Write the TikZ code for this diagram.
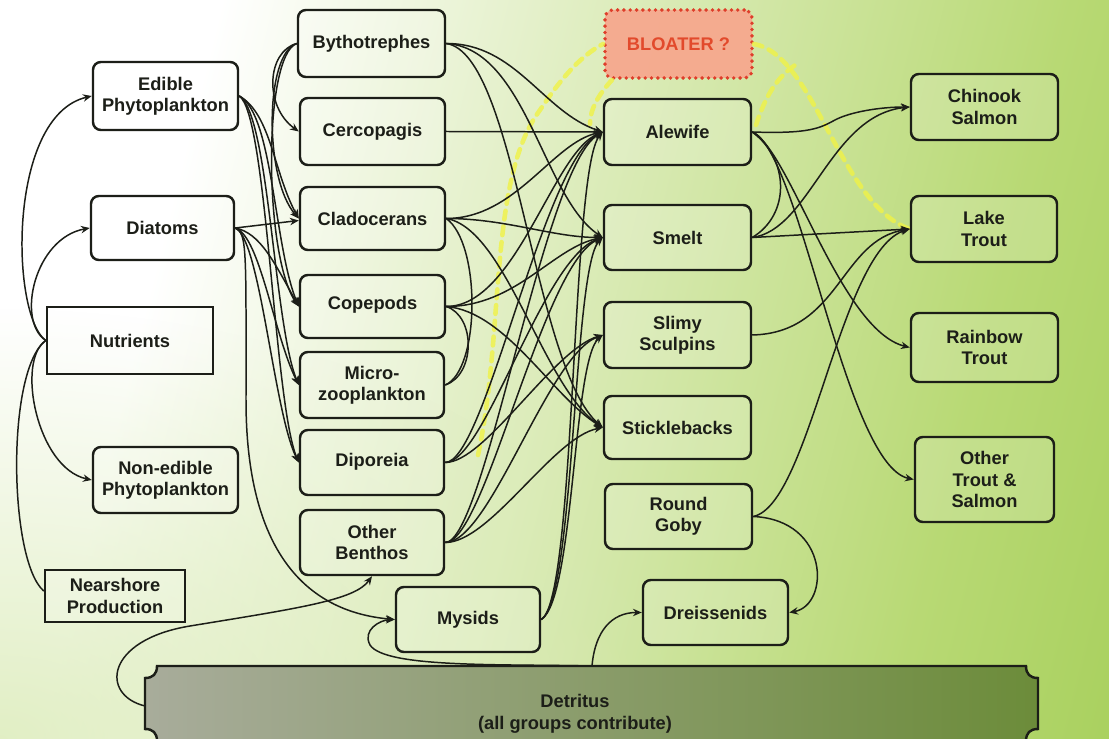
\documentclass[tikz,border=0pt]{standalone}
\usepackage{fontspec}
\setmainfont{Liberation Sans}
\usetikzlibrary{arrows.meta,calc,fadings}
\definecolor{ink}{RGB}{28,30,24}
\definecolor{bgA}{RGB}{226,239,198}
\definecolor{bgB}{RGB}{184,217,116}
\definecolor{bgC}{RGB}{142,193,56}
\definecolor{detL}{RGB}{168,172,155}
\definecolor{detR}{RGB}{108,140,58}
\definecolor{bloaterfill}{RGB}{246,168,142}
\definecolor{bloaterred}{RGB}{222,62,42}
\definecolor{bloatertext}{RGB}{226,74,44}
\definecolor{yellowdash}{RGB}{240,242,70}
\pgfdeclarehorizontalshading{bgshade}{100bp}{color(0bp)=(white); color(30bp)=(white); color(46bp)=(bgA); color(70bp)=(bgB); color(100bp)=(bgC)}
\tikzfading[name=softspot, inner color=transparent!15, outer color=transparent!100]
\tikzset{
  box/.style={draw=ink, line width=1.4pt, rounded corners=4.5pt, fill=white,
    fill opacity=0.18, text opacity=1, align=center, text=ink, inner sep=0pt,
    font=\bfseries\fontsize{10.4}{12}\selectfont},
  sqbox/.style={box, rounded corners=0pt},
  sz/.style 2 args={minimum width={#1*0.02cm}, minimum height={#2*0.02cm}},
  link/.style={draw=ink, line width=0.85pt},
  arr/.style={link, -{Stealth[length=5pt,width=4.2pt]}},
  ydash/.style={draw=yellowdash, line width=2.6pt, dash pattern=on 5pt off 4pt,
    line cap=round, opacity=0.8},
}
\begin{document}
\begin{tikzpicture}[x=0.02cm,y=-0.02cm]
\useasboundingbox (0,0) rectangle (1109,739);
\begin{scope}
\clip (0,0) rectangle (1109,739);
% background wash: white at the upper left, green towards the right
\shade[shading=bgshade, shading angle=-14] (0,0) rectangle (1109,739);
% pale green tint towards the lower left
\fill[bgA!85!bgB, path fading=softspot] (0,739) ellipse [x radius=700, y radius=430];

% detritus plaque
\shadedraw[left color=detL, right color=detR, draw=ink, line width=1.4pt]
  (157,666) -- (1026,666) .. controls (1026,674) and (1030,678) .. (1038,678)
  -- (1038,729) .. controls (1030,729) and (1026,733) .. (1026,741)
  -- (157,741) .. controls (157,733) and (153,729) .. (145,729)
  -- (145,678) .. controls (153,678) and (157,674) .. (157,666) -- cycle;
\node[align=center, text=ink, font=\bfseries\fontsize{10.4}{12.5}\selectfont] (det) at (575,714) {Detritus\\(all groups contribute)};
\coordinate (dl) at (145,706);
\coordinate (dt) at (592,666);

% producers
\node[box, sz={145}{68}] (edible) at (165.5,96) {Edible\\Phytoplankton};
\node[box, sz={143}{64}] (diatoms) at (162.5,228) {Diatoms};
\node[sqbox, sz={166}{67}] (nutrients) at (130,340.5) {Nutrients};
\node[box, sz={145}{66}] (nonedible) at (165.5,480) {Non-edible\\Phytoplankton};
\node[sqbox, sz={140}{52}] (nearshore) at (115,596) {Nearshore\\Production};

% invertebrates
\node[box, sz={147}{67}] (byth) at (371.5,43.5) {Bythotrephes};
\node[box, sz={145}{67}] (cerco) at (372.5,131.5) {Cercopagis};
\node[box, sz={145}{63}] (clado) at (372.5,218.5) {\raisebox{-5.5pt}{Cladocerans}};
\node[box, sz={145}{63}] (cope) at (372.5,306.5) {\raisebox{4pt}{Copepods}};
\node[box, sz={144}{66}] (micro) at (372,385) {Micro-\\zooplankton};
\node[box, sz={144}{65}] (dipo) at (372,462.5) {\raisebox{3pt}{Diporeia}};
\node[box, sz={144}{65}] (oben) at (372,542.5) {Other\\Benthos};
\node[box, sz={144}{65}] (mysids) at (468,619.5) {Mysids};

% forage fish and others
\node[box, sz={147}{68}, fill=bloaterfill, fill opacity=0.95, draw=bloaterred,
  line width=2.2pt, dash pattern=on 0pt off 3.6pt, line cap=round,
  text=bloatertext] (bloater) at (678.5,44) {BLOATER ?};
\node[box, sz={147}{66}] (alewife) at (677.5,132) {Alewife};
\node[box, sz={147}{65}] (smelt) at (677.5,237.5) {Smelt};
\node[box, sz={147}{66}] (slimy) at (677.5,335) {Slimy\\Sculpins};
\node[box, sz={147}{63}] (stickle) at (677.5,427.5) {Sticklebacks};
\node[box, sz={147}{65}] (goby) at (678.5,516.5) {Round\\Goby};
\node[box, sz={145}{65}] (dreiss) at (715.5,612.5) {Dreissenids};

% top predators
\node[box, sz={147}{66}] (chinook) at (984.5,107) {Chinook\\Salmon};
\node[box, sz={146}{66}] (laketrout) at (984,229) {Lake\\Trout};
\node[box, sz={147}{69}] (rainbow) at (984.5,347.5) {Rainbow\\Trout};
\node[box, sz={139}{85}] (othertrout) at (984.5,479.5) {Other\\Trout \&\\Salmon};

% bloater links (dashed yellow)
\draw[ydash] (478,455) .. controls (505,330) and (488,180) .. (540,110) .. controls (560,80) and (580,56) .. (bloater.west);
\draw[ydash] (bloater.east) .. controls (815,55) and (840,205) .. (laketrout.west);
\draw[ydash] (756,125) .. controls (765,98) and (776,76) .. (800,62);
\draw[ydash] (612,80) .. controls (598,95) and (590,110) .. (590,124);

% nutrients to producers
\draw[arr] (nutrients.west) .. controls +(-35,-25) and +(-85,20) .. (edible.west);
\draw[arr] (nutrients.west) .. controls +(-30,-20) and +(-55,10) .. (diatoms.west);
\draw[arr] (nutrients.west) .. controls +(-30,20) and +(-55,-12) .. (nonedible.west);
\draw[link] (nutrients.west) .. controls +(-40,30) and +(-35,-30) .. ($(nearshore.west)+(0,-5)$);

% phytoplankton to grazers
\draw[arr] (edible.east) .. controls +(32,18) and +(-25,-45) .. (clado.west);
\draw[arr] (edible.east) .. controls +(34,18) and +(-25,-60) .. (cope.west);
\draw[arr] (edible.east) .. controls +(30,18) and +(-25,-60) .. (micro.west);
\draw[arr] (edible.east) .. controls +(28,18) and +(-25,-60) .. (dipo.west);
\draw[arr] (diatoms.east) -- ($(clado.west)+(0,2)$);
\draw[arr] (diatoms.east) .. controls +(25,5) and +(-25,-45) .. (cope.west);
\draw[arr] (diatoms.east) .. controls +(25,8) and +(-25,-50) .. (micro.west);
\draw[arr] (diatoms.east) .. controls +(25,10) and +(-25,-50) .. (dipo.west);
\draw[arr] (diatoms.east) .. controls +(12,5) and +(0,-150) .. (246,400) .. controls +(0,150) and +(-90,-8) .. (mysids.west);

% invertebrate predators
\draw[arr] (byth.west) .. controls +(-30,8) and +(-35,-25) .. (cerco.west);
\draw[arr] (byth.west) .. controls +(-32,10) and +(-35,-40) .. (clado.west);
\draw[arr] (byth.west) .. controls +(-34,12) and +(-35,-50) .. (cope.west);
\draw[link] (clado.east) .. controls +(35,25) and +(35,-15) .. (micro.east);
\draw[link] (cope.east) .. controls +(30,10) and +(30,-10) .. (micro.east);

% invertebrates to forage fish
\draw[arr] (byth.east) .. controls +(70,0) and +(-60,-20) .. (alewife.west);
\draw[arr] (byth.east) .. controls +(80,5) and +(-60,-40) .. (smelt.west);
\draw[arr] (byth.east) .. controls +(70,10) and +(-70,-60) .. (stickle.west);
\draw[arr] (cerco.east) -- (alewife.west);
\draw[arr] (clado.east) .. controls +(70,0) and +(-50,10) .. (alewife.west);
\draw[arr] (clado.east) .. controls +(60,0) and +(-50,0) .. (smelt.west);
\draw[arr] (clado.east) .. controls +(60,10) and +(-60,-40) .. (stickle.west);
\draw[arr] (cope.east) .. controls +(70,0) and +(-50,20) .. (alewife.west);
\draw[arr] (cope.east) .. controls +(70,0) and +(-50,10) .. (smelt.west);
\draw[arr] (cope.east) .. controls +(60,5) and +(-50,-30) .. (stickle.west);
\draw[arr] (dipo.east) .. controls +(40,0) and +(-60,30) .. (alewife.west);
\draw[arr] (dipo.east) .. controls +(40,0) and +(-60,20) .. (smelt.west);
\draw[arr] (dipo.east) .. controls +(40,0) and +(-50,15) .. (slimy.west);
\draw[arr] (oben.east) .. controls +(40,0) and +(-60,35) .. (alewife.west);
\draw[arr] (oben.east) .. controls +(40,0) and +(-60,25) .. (smelt.west);
\draw[arr] (oben.east) .. controls +(45,0) and +(-55,20) .. (slimy.west);
\draw[arr] (oben.east) .. controls +(45,0) and +(-50,10) .. (stickle.west);
\draw[arr] (mysids.east) .. controls +(35,-20) and +(-32,38) .. (alewife.west);
\draw[arr] (mysids.east) .. controls +(34,-20) and +(-30,30) .. (smelt.west);
\draw[arr] (mysids.east) .. controls +(33,-20) and +(-30,25) .. (slimy.west);

% detritus pathways
\draw[arr] (dl) .. controls (100,695) and (105,640) .. (190,626) .. controls (300,608) and (355,600) .. (oben.south);
\draw[arr] (dt) .. controls +(3,-35) and +(-30,0) .. (dreiss.west);
\draw[arr] (dt) .. controls (500,664) and (385,668) .. (370,645) .. controls (362,630) and (380,620) .. (mysids.west);

% forage fish to top predators
\draw[arr] (alewife.east) .. controls (810,134) and (820,128) .. (835,120) .. controls (850,112) and (880,107) .. (chinook.west);
\draw[arr] (alewife.east) .. controls (790,150) and (840,330) .. (rainbow.west);
\draw[arr] (alewife.east) .. controls (800,150) and (845,465) .. (othertrout.west);
\draw[link] (alewife.east) .. controls (790,160) and (790,215) .. (smelt.east);
\draw[arr] (smelt.east) .. controls (810,230) and (830,115) .. (chinook.west);
\draw[arr] (smelt.east) -- (laketrout.west);
\draw[arr] (slimy.east) .. controls (840,333) and (840,240) .. (laketrout.west);
\draw[arr] (goby.east) .. controls (810,505) and (840,250) .. (laketrout.west);
\draw[arr] (goby.east) .. controls (830,520) and (830,605) .. (dreiss.east);
\end{scope}
\end{tikzpicture}
\end{document}
